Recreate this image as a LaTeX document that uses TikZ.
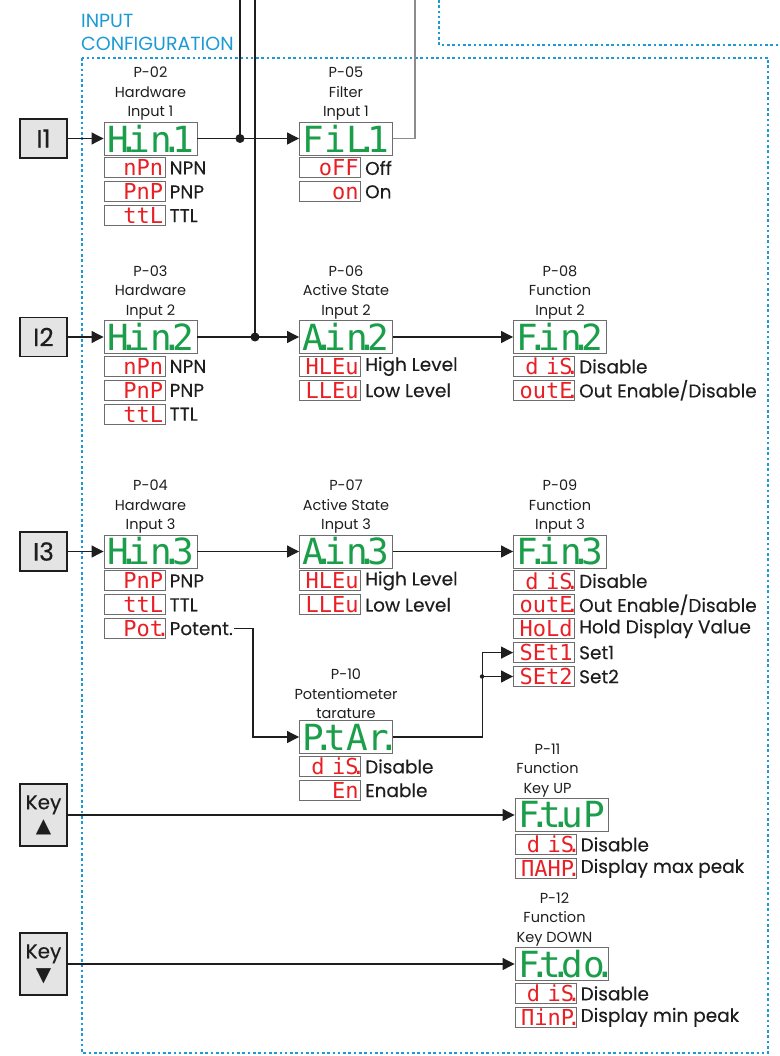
\documentclass[tikz,border=0pt]{standalone}
\usepackage{fontspec}
\setmainfont{Poppins}
\newfontfamily\segfont{DejaVu Sans Mono}
\newfontfamily\symfont{DejaVu Sans}
\newfontfamily\lblfont[FakeBold=0.3]{Poppins}
\usetikzlibrary{positioning,arrows.meta}

\definecolor{frameblue}{RGB}{27,154,214}
\definecolor{seggreen}{RGB}{26,158,74}
\definecolor{segred}{RGB}{232,32,38}
\definecolor{boxgray}{RGB}{228,228,228}
\definecolor{linegray}{RGB}{140,140,140}
\definecolor{ink}{RGB}{30,30,30}

% decimal point of a seven segment cell
\newcommand{\sdot}{\rlap{\kern-.3em.}}

\tikzset{
  inbox/.style={draw=ink, line width=1.8pt, fill=boxgray, minimum width=47pt,
    minimum height=39pt, inner sep=0pt, text=ink, font=\lblfont\fontsize{25}{25}\selectfont},
  keybox/.style={inbox, minimum height=62pt, align=center, font=\lblfont\fontsize{20}{23}\selectfont},
  disp/.style={draw=ink!65, line width=0.9pt, minimum width=93pt, minimum height=33pt,
    inner sep=0pt, text=seggreen, font=\segfont\fontsize{36}{36}\selectfont,
    execute at begin node=\vphantom{P}},
  opt/.style={draw=ink!65, line width=0.9pt, minimum width=61pt, minimum height=20pt,
    inner sep=0pt, text width=57pt, align=right, text=segred,
    font=\segfont\fontsize{22}{22}\selectfont, execute at begin node=\vphantom{P}},
  lbl/.style={inner sep=1pt, text=ink, font=\lblfont\fontsize{18.5}{20}\selectfont},
  hdr/.style={inner sep=1pt, align=center, text=ink, font=\fontsize{14.5}{19.5}\selectfont},
  wire/.style={draw=ink, line width=1.1pt},
  arr/.style={wire, -{Triangle[length=12pt,width=12pt]}},
  graywire/.style={draw=linegray, line width=1.4pt},
  frame/.style={draw=frameblue, line width=2.6pt, dash pattern=on 2.6pt off 2.7pt},
}

\begin{document}
\begin{tikzpicture}[x=1pt,y=-1pt]
  \useasboundingbox (0,0) rectangle (779,1056);

  % frames
  \draw[frame] (439,0) -- (439,45) -- (779,45);
  \draw[frame] (82,58) rectangle (768,1053);
  \node[anchor=south west, inner sep=0pt, align=left, text=frameblue,
    font=\fontsize{19}{23}\selectfont] (title) at (81,51) {INPUT\\CONFIGURATION};

  % input 1
  \node[inbox] (i1) at (43.5,138.5) {I1};
  \node[disp] (hin1) at (150.5,138.5) {H\sdot in\sdot 1};
  \node[hdr, above=0pt of hin1] {P-02\\Hardware\\Input 1};
  \node[opt, below=2pt of hin1.south west, anchor=north west] (o11) {nPn};
  \node[opt, below=3pt of o11] (o12) {PnP};
  \node[opt, below=3pt of o12] (o13) {ttL};
  \node[lbl, right=3pt of o11] (l11) {NPN};
  \node[lbl, right=3pt of o12] (l12) {PNP};
  \node[lbl, right=3pt of o13] (l13) {TTL};

  \node[disp] (fil1) at (346,138.5) {FiL\sdot 1};
  \node[hdr, above=0pt of fil1] {P-05\\Filter\\Input 1};
  \node[opt, below=2pt of fil1.south west, anchor=north west] (o14) {oFF};
  \node[opt, below=3pt of o14] (o15) {on};
  \node[lbl, right=3pt of o14] (l14) {Off};
  \node[lbl, right=3pt of o15] (l15) {On};

  % input 2
  \node[inbox] (i2) at (43.5,337) {I2};
  \node[disp] (hin2) at (150.5,337) {H\sdot in\sdot 2};
  \node[hdr, above=0pt of hin2] {P-03\\Hardware\\Input 2};
  \node[opt, below=2pt of hin2.south west, anchor=north west] (o21) {nPn};
  \node[opt, below=3pt of o21] (o22) {PnP};
  \node[opt, below=3pt of o22] (o23) {ttL};
  \node[lbl, right=3pt of o21] (l21) {NPN};
  \node[lbl, right=3pt of o22] (l22) {PNP};
  \node[lbl, right=3pt of o23] (l23) {TTL};

  \node[disp] (ain2) at (346,337) {A\sdot in\sdot 2};
  \node[hdr, above=0pt of ain2] {P-06\\Active State\\Input 2};
  \node[opt, below=2pt of ain2.south west, anchor=north west] (o24) {HLEu};
  \node[opt, below=3pt of o24] (o25) {LLEu};
  \node[lbl, right=3pt of o24] (l24) {High Level};
  \node[lbl, right=3pt of o25] (l25) {Low Level};

  \node[disp] (fin2) at (560,337) {F\sdot in\sdot 2};
  \node[hdr, above=0pt of fin2] {P-08\\Function\\Input 2};
  \node[opt, below=2pt of fin2.south west, anchor=north west] (o26) {d iS\sdot};
  \node[opt, below=3pt of o26] (o27) {outE\sdot};
  \node[lbl, right=3pt of o26] (l26) {Disable};
  \node[lbl, right=3pt of o27] (l27) {Out Enable/Disable};

  % input 3
  \node[inbox] (i3) at (43.5,551.5) {I3};
  \node[disp] (hin3) at (150.5,551.5) {H\sdot in\sdot 3};
  \node[hdr, above=0pt of hin3] {P-04\\Hardware\\Input 3};
  \node[opt, below=2pt of hin3.south west, anchor=north west] (o31) {PnP};
  \node[opt, below=3pt of o31] (o32) {ttL};
  \node[opt, below=3pt of o32] (o33) {Pot\sdot};
  \node[lbl, right=3pt of o31] (l31) {PNP};
  \node[lbl, right=3pt of o32] (l32) {TTL};
  \node[lbl, right=3pt of o33] (l33) {Potent.};

  \node[disp] (ain3) at (346,551.5) {A\sdot in\sdot 3};
  \node[hdr, above=0pt of ain3] {P-07\\Active State\\Input 3};
  \node[opt, below=2pt of ain3.south west, anchor=north west] (o34) {HLEu};
  \node[opt, below=3pt of o34] (o35) {LLEu};
  \node[lbl, right=3pt of o34] (l34) {High Level};
  \node[lbl, right=3pt of o35] (l35) {Low Level};

  \node[disp] (fin3) at (560,551.5) {F\sdot in\sdot 3};
  \node[hdr, above=0pt of fin3] {P-09\\Function\\Input 3};
  \node[opt, below=2pt of fin3.south west, anchor=north west] (o36) {d iS\sdot};
  \node[opt, below=3pt of o36] (o37) {outE\sdot};
  \node[opt, below=3pt of o37] (o38) {HoLd};
  \node[opt, below=3pt of o38] (o39) {SEt1};
  \node[opt, below=3pt of o39] (o3a) {SEt2};
  \node[lbl, right=3pt of o36] (l36) {Disable};
  \node[lbl, right=3pt of o37] (l37) {Out Enable/Disable};
  \node[lbl, right=3pt of o38] (l38) {Hold Display Value};
  \node[lbl, right=3pt of o39] (l39) {Set1};
  \node[lbl, right=3pt of o3a] (l3a) {Set2};

  % potentiometer
  \node[disp] (ptar) at (346,737) {P\sdot tAr\sdot};
  \node[hdr, above=0pt of ptar] {P-10\\Potentiometer\\tarature};
  \node[opt, below=2pt of ptar.south west, anchor=north west] (o41) {d iS\sdot};
  \node[opt, below=3pt of o41] (o42) {En};
  \node[lbl, right=3pt of o41] (l41) {Disable};
  \node[lbl, right=3pt of o42] (l42) {Enable};

  % keys
  \node[keybox] (kup) at (43.5,815) {Key\\{\symfont ▲}};
  \node[disp] (ftup) at (561.5,815) {F\sdot t\sdot uP};
  \node[hdr, above=0pt of ftup, xshift=-14pt] {P-11\\Function\\Key UP};
  \node[opt, below=2pt of ftup.south west, anchor=north west] (o51) {d iS\sdot};
  \node[opt, below=3pt of o51] (o52) {ΠAHP\sdot};
  \node[lbl, right=3pt of o51] (l51) {Disable};
  \node[lbl, right=3pt of o52] (l52) {Display max peak};

  \node[keybox] (kdn) at (43.5,964) {Key\\{\symfont ▼}};
  \node[disp] (ftdo) at (561.5,964) {F\sdot t\sdot do\sdot};
  \node[hdr, above=0pt of ftdo, xshift=-7pt] {P-12\\Function\\Key DOWN};
  \node[opt, below=2pt of ftdo.south west, anchor=north west] (o61) {d iS\sdot};
  \node[opt, below=3pt of o61] (o62) {ΠinP\sdot};
  \node[lbl, right=3pt of o61] (l61) {Disable};
  \node[lbl, right=3pt of o62] (l62) {Display min peak};

  % connections
  \coordinate (t1) at (240,0);
  \coordinate (t2) at (255,0);
  \coordinate (t3) at (415,0);
  \coordinate (j1) at (240,138.5);
  \coordinate (j2) at (255,337);
  \coordinate (pv) at (253,629);

  \draw[arr] (i1) -- (hin1);
  \draw[arr] (hin1) -- (fil1);
  \draw[wire] (t1) -- (j1);
  \fill[ink] (j1) circle (4.5pt);
  \draw[graywire] (fil1.east) -| (t3);

  \draw[arr] (i2) -- (hin2);
  \draw[arr] (hin2) -- (ain2);
  \draw[wire] (t2) -- (j2);
  \fill[ink] (j2) circle (4.5pt);
  \draw[arr] (ain2) -- (fin2);

  \draw[arr] (i3) -- (hin3);
  \draw[arr] (hin3) -- (ain3);
  \draw[arr] (ain3) -- (fin3);

  \draw[arr] (l33.east) -- (l33.east -| pv) |- (ptar.west);
  \path (o3a.west) ++(-31,0) coordinate (jset);
  \draw[wire] (ptar.east) -| (jset);
  \draw[arr] (jset) |- (o39.west);
  \draw[arr] (jset) -- (o3a.west);
  \fill[ink] (jset) circle (2.2pt);

  \draw[arr] (kup) -- (ftup);
  \draw[arr] (kdn) -- (ftdo);
\end{tikzpicture}
\end{document}
